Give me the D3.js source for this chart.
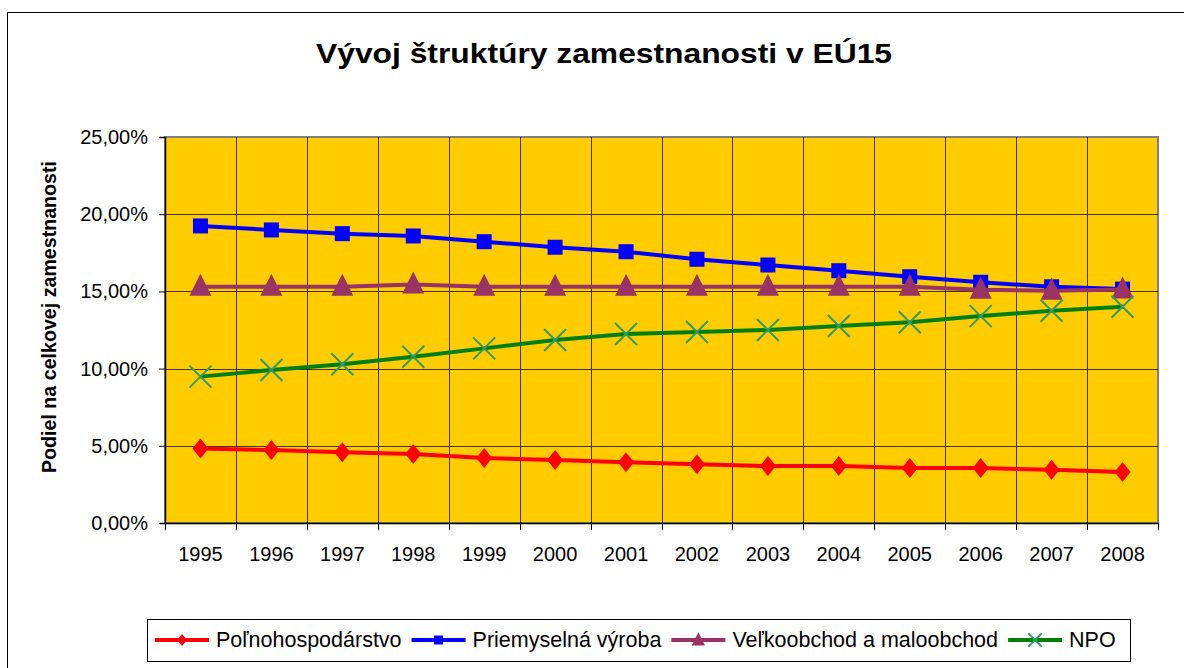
<!DOCTYPE html>
<html>
<head>
<meta charset="utf-8">
<script src="https://cdn.jsdelivr.net/npm/d3@7"></script>
<style>
  body { margin: 0; background: #fff; }
  svg { display: block; font-family: "Liberation Sans", Arial, sans-serif; }
</style>
</head>
<body>
<svg id="chart" width="1184" height="668"></svg>
<script>
const years = ["1995","1996","1997","1998","1999","2000","2001","2002","2003","2004","2005","2006","2007","2008"];
const polnohospodarstvo = [4.82, 4.72, 4.58, 4.47, 4.21, 4.08, 3.93, 3.80, 3.69, 3.69, 3.56, 3.56, 3.45, 3.30];
const priemysel = [19.24, 18.98, 18.74, 18.59, 18.22, 17.86, 17.57, 17.08, 16.71, 16.34, 15.95, 15.59, 15.30, 15.15];
const obchod = [15.30, 15.30, 15.30, 15.45, 15.30, 15.30, 15.30, 15.30, 15.30, 15.30, 15.30, 15.10, 15.05, 15.13];
const npo = [9.48, 9.91, 10.28, 10.77, 11.31, 11.85, 12.24, 12.37, 12.50, 12.76, 13.00, 13.40, 13.75, 14.01];
const yTicks = [0, 5, 10, 15, 20, 25];

const series = [
  { name: "Poľnohospodárstvo", values: polnohospodarstvo, color: "#FF0000", marker: "diamond" },
  { name: "Priemyselná výroba", values: priemysel, color: "#0000FF", marker: "square" },
  { name: "Veľkoobchod a maloobchod", values: obchod, color: "#993366", marker: "triangle" },
  { name: "NPO", values: npo, color: "#008000", marker: "x" }
];

const svg = d3.select("#chart");
const plot = { left: 165, right: 1158, top: 137, bottom: 523 };

// outer chart frame
svg.append("path")
  .attr("d", "M7.5,668 L7.5,12.5 L1184,12.5")
  .attr("fill", "none").attr("stroke", "#000").attr("stroke-width", 1);

svg.append("text")
  .attr("x", 604).attr("y", 63)
  .attr("text-anchor", "middle")
  .attr("font-size", "28px").attr("font-weight", "bold")
  .attr("textLength", 576).attr("lengthAdjust", "spacingAndGlyphs")
  .text("Vývoj štruktúry zamestnanosti v EÚ15");

const x = d3.scaleBand().domain(years).range([plot.left, plot.right]).padding(0);
const y = d3.scaleLinear().domain([0, 25]).range([plot.bottom, plot.top]);

svg.append("rect")
  .attr("x", plot.left).attr("y", plot.top)
  .attr("width", plot.right - plot.left).attr("height", plot.bottom - plot.top)
  .attr("fill", "#FFCC00").attr("stroke", "#808080").attr("stroke-width", 2);

// gridlines
const grid = svg.append("g").attr("stroke", "#000").attr("stroke-width", 1).attr("stroke-opacity", 0.75);
years.slice(1).forEach(d => {
  const gx = Math.round(x(d)) + 0.5;
  grid.append("line").attr("x1", gx).attr("x2", gx).attr("y1", plot.top).attr("y2", plot.bottom);
});
yTicks.slice(1, -1).forEach(t => {
  const gy = Math.round(y(t)) + 0.5;
  grid.append("line").attr("x1", plot.left).attr("x2", plot.right).attr("y1", gy).attr("y2", gy);
});

// y axis
const yAxis = svg.append("g")
  .attr("transform", `translate(${plot.left},0)`)
  .call(d3.axisLeft(y).tickValues(yTicks).tickSize(6).tickPadding(11)
    .tickFormat(d => d.toFixed(2).replace(".", ",") + "%"));
yAxis.select(".domain").attr("stroke", "#000").attr("stroke-width", 1.5);
yAxis.selectAll("text").attr("font-size", "20px").attr("fill", "#000").attr("font-family", "Liberation Sans, Arial, sans-serif");

// x axis: ticks at category boundaries
const xAxis = svg.append("g")
  .attr("transform", `translate(0,${plot.bottom})`)
  .call(d3.axisBottom(x).tickSize(0).tickPadding(24));
xAxis.select(".domain").attr("stroke", "#000").attr("stroke-width", 1.5);
xAxis.selectAll("text").attr("font-size", "20px").attr("fill", "#000").attr("font-family", "Liberation Sans, Arial, sans-serif");
years.concat(["end"]).forEach((d, i) => {
  const tx = Math.round(i < years.length ? x(d) : x.range()[1]) + 0.5;
  xAxis.append("line").attr("x1", tx).attr("x2", tx).attr("y1", 0).attr("y2", 7).attr("stroke", "#000");
});

svg.append("text")
  .attr("transform", `translate(56,317) rotate(-90)`)
  .attr("text-anchor", "middle")
  .attr("font-size", "20px").attr("font-weight", "bold")
  .attr("textLength", 312).attr("lengthAdjust", "spacingAndGlyphs")
  .text("Podiel na celkovej zamestnanosti");

function drawMarker(g, type, cx, cy, s) {
  if (type === "diamond") {
    g.append("path").attr("d", `M${cx},${cy - 10 * s} L${cx + 8 * s},${cy} L${cx},${cy + 10 * s} L${cx - 8 * s},${cy} Z`)
      .attr("fill", "#FF0000");
  } else if (type === "square") {
    g.append("rect").attr("x", cx - 7.5 * s).attr("y", cy - 7.5 * s).attr("width", 15 * s).attr("height", 15 * s)
      .attr("fill", "#0000FF");
  } else if (type === "triangle") {
    g.append("path").attr("d", `M${cx},${cy - 13 * s} L${cx + 11 * s},${cy + 9 * s} L${cx - 11 * s},${cy + 9 * s} Z`)
      .attr("fill", "#993366");
  } else {
    g.append("path").attr("d", `M${cx - 11 * s},${cy - 11 * s} L${cx + 11 * s},${cy + 11 * s} M${cx - 11 * s},${cy + 11 * s} L${cx + 11 * s},${cy - 11 * s}`)
      .attr("stroke", "#339966").attr("stroke-width", 2).attr("fill", "none");
  }
}

const line = d3.line()
  .x((d, i) => x(years[i]) + x.bandwidth() / 2)
  .y(d => y(d));

series.forEach(s => {
  const g = svg.append("g");
  g.append("path").datum(s.values)
    .attr("d", line)
    .attr("fill", "none").attr("stroke", s.color).attr("stroke-width", 4);
  s.values.forEach((v, i) => drawMarker(g, s.marker, x(years[i]) + x.bandwidth() / 2, y(v), 1));
});

// legend, laid out item by item from the measured text widths
const legend = svg.append("g");
legend.append("rect").attr("x", 147.5).attr("y", 619.5).attr("width", 983).attr("height", 42)
  .attr("fill", "#fff").attr("stroke", "#000");
let lx = 155;
const ly = 640;
series.forEach(s => {
  legend.append("line").attr("x1", lx).attr("x2", lx + 54).attr("y1", ly).attr("y2", ly)
    .attr("stroke", s.color).attr("stroke-width", 4);
  drawMarker(legend, s.marker, lx + 27, ly, 0.6);
  const t = legend.append("text").attr("x", lx + 61).attr("y", ly + 7)
    .attr("font-size", "21.5px").text(s.name);
  lx = lx + 61 + t.node().getComputedTextLength() + 10;
});
</script>
</body>
</html>
